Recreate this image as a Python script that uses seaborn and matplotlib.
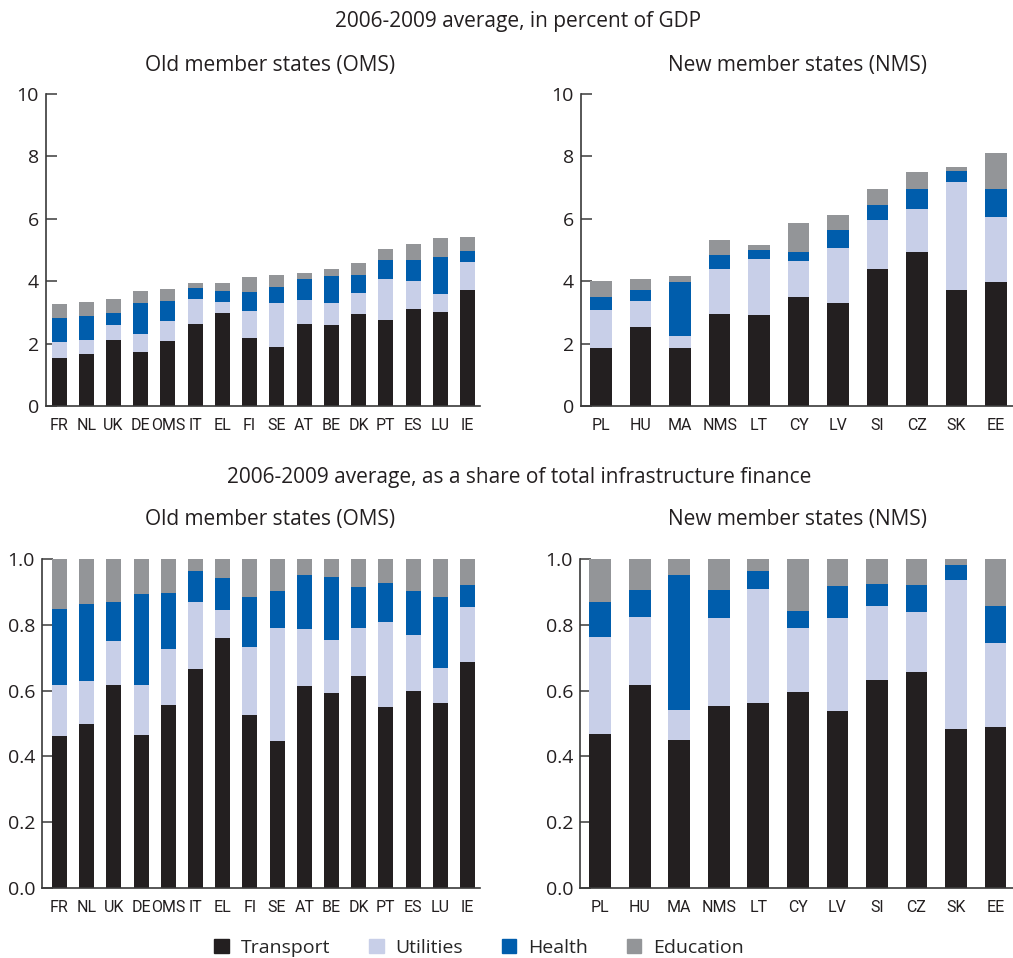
import matplotlib
matplotlib.use('Agg')
import matplotlib.pyplot as plt
import matplotlib.patches as mpatches
import numpy as np
import seaborn as sns

# Colours
C_TRANSPORT = '#231f20'
C_UTILITIES = '#c8cfe8'
C_HEALTH = '#005dac'
C_EDUCATION = '#939598'

# --- Data: old member states ---
oms_countries = ['FR', 'NL', 'UK', 'DE', 'OMS', 'IT', 'EL', 'FI', 'SE', 'AT', 'BE', 'DK', 'PT', 'ES', 'LU', 'IE']
# percent of GDP
oms_gdp_transport = [1.53, 1.66, 2.11, 1.72, 2.07, 2.62, 2.97, 2.17, 1.88, 2.62, 2.59, 2.94, 2.75, 3.10, 3.01, 3.71]
oms_gdp_utilities = [0.51, 0.45, 0.48, 0.58, 0.65, 0.80, 0.36, 0.87, 1.41, 0.77, 0.70, 0.67, 1.31, 0.90, 0.57, 0.90]
oms_gdp_health = [0.77, 0.77, 0.38, 0.99, 0.64, 0.36, 0.35, 0.61, 0.52, 0.67, 0.87, 0.58, 0.61, 0.67, 1.19, 0.35]
oms_gdp_education = [0.47, 0.45, 0.45, 0.39, 0.38, 0.16, 0.26, 0.48, 0.38, 0.20, 0.23, 0.39, 0.36, 0.52, 0.61, 0.45]
# share of total
oms_sh_transport = [0.462, 0.499, 0.618, 0.466, 0.557, 0.666, 0.761, 0.526, 0.447, 0.615, 0.593, 0.645, 0.551, 0.599, 0.563, 0.688]
oms_sh_utilities = [0.156, 0.131, 0.134, 0.152, 0.170, 0.204, 0.085, 0.207, 0.344, 0.173, 0.162, 0.146, 0.258, 0.171, 0.106, 0.167]
oms_sh_health = [0.231, 0.234, 0.116, 0.277, 0.171, 0.095, 0.097, 0.152, 0.113, 0.164, 0.191, 0.125, 0.119, 0.134, 0.216, 0.067]
oms_sh_education = [0.151, 0.136, 0.132, 0.105, 0.102, 0.035, 0.057, 0.115, 0.096, 0.048, 0.054, 0.084, 0.072, 0.096, 0.115, 0.078]

# --- Data: new member states ---
nms_countries = ['PL', 'HU', 'MA', 'NMS', 'LT', 'CY', 'LV', 'SI', 'CZ', 'SK', 'EE']
nms_gdp_transport = [1.85, 2.52, 1.85, 2.94, 2.91, 3.49, 3.29, 4.39, 4.93, 3.71, 3.97]
nms_gdp_utilities = [1.22, 0.84, 0.39, 1.45, 1.80, 1.15, 1.77, 1.57, 1.38, 3.47, 2.08]
nms_gdp_health = [0.42, 0.35, 1.73, 0.44, 0.28, 0.29, 0.58, 0.48, 0.64, 0.35, 0.90]
nms_gdp_education = [0.51, 0.35, 0.19, 0.49, 0.17, 0.93, 0.48, 0.51, 0.55, 0.13, 1.16]
nms_sh_transport = [0.469, 0.618, 0.450, 0.552, 0.563, 0.596, 0.539, 0.633, 0.657, 0.482, 0.490]
nms_sh_utilities = [0.295, 0.207, 0.092, 0.269, 0.347, 0.195, 0.282, 0.225, 0.183, 0.455, 0.255]
nms_sh_health = [0.106, 0.082, 0.410, 0.086, 0.055, 0.052, 0.098, 0.067, 0.082, 0.046, 0.113]
nms_sh_education = [0.130, 0.093, 0.048, 0.093, 0.035, 0.157, 0.081, 0.075, 0.078, 0.017, 0.142]

sns.set_style('ticks')
plt.rcParams['font.family'] = ['Open Sans', 'DejaVu Sans']
TICK_FONT = ['Roboto', 'DejaVu Sans']
SPINE_COL = '#3a3a3a'


def stacked(ax, countries, parts, xlim, ylim, yticks, ylabels):
    # seaborn stacked bars: draw cumulative totals from the top layer down
    colors = [C_TRANSPORT, C_UTILITIES, C_HEALTH, C_EDUCATION]
    cums = np.cumsum(np.array(parts), axis=0)
    for i in range(3, -1, -1):
        sns.barplot(x=countries, y=cums[i], color=colors[i], saturation=1,
                    width=0.55, linewidth=0, ax=ax, order=countries)
    ax.set_xlim(*xlim)
    ax.set_ylim(*ylim)
    ax.set_yticks(yticks)
    ax.set_yticklabels(ylabels, fontsize=14, color='#231f20')
    ax.set_xticks(range(len(countries)))
    ax.set_xticklabels(countries, fontsize=11.5, family=TICK_FONT, color='#231f20')
    ax.tick_params(axis='x', length=0, pad=9)
    ax.tick_params(axis='y', direction='in', length=8, width=1.1, color=SPINE_COL, pad=5)
    for side in ['top', 'right']:
        ax.spines[side].set_visible(False)
    for side in ['left', 'bottom']:
        ax.spines[side].set_color(SPINE_COL)
        ax.spines[side].set_linewidth(1.2)
    ax.set_xlabel('')
    ax.set_ylabel('')


fig = plt.figure(figsize=(10.13, 9.58), dpi=100)
H = 958.0
W = 1013.0

ax1 = fig.add_axes([46 / W, 1 - 406 / H, 434 / W, 312 / H])
ax2 = fig.add_axes([581 / W, 1 - 406 / H, 432 / W, 312 / H])
ax3 = fig.add_axes([42 / W, 1 - 888 / H, 438 / W, 329 / H])
ax4 = fig.add_axes([580 / W, 1 - 888 / H, 433 / W, 329 / H])

gdp_ticks = [0, 2, 4, 6, 8, 10]
gdp_labels = ['0', '2', '4', '6', '8', '10']
sh_ticks = [0, 0.2, 0.4, 0.6, 0.8, 1.0]
sh_labels = ['0.0', '0.2', '0.4', '0.6', '0.8', '1.0']

stacked(ax1, oms_countries, [oms_gdp_transport, oms_gdp_utilities, oms_gdp_health, oms_gdp_education],
        (-0.48, 15.46), (0, 10), gdp_ticks, gdp_labels)
stacked(ax2, nms_countries, [nms_gdp_transport, nms_gdp_utilities, nms_gdp_health, nms_gdp_education],
        (-0.51, 10.43), (0, 10), gdp_ticks, gdp_labels)
stacked(ax3, oms_countries, [oms_sh_transport, oms_sh_utilities, oms_sh_health, oms_sh_education],
        (-0.64, 15.46), (0, 1.0), sh_ticks, sh_labels)
stacked(ax4, nms_countries, [nms_sh_transport, nms_sh_utilities, nms_sh_health, nms_sh_education],
        (-0.51, 10.44), (0, 1.0), sh_ticks, sh_labels)

# Titles
txt = dict(ha='center', va='center', color='#231f20')
fig.text(518 / W, 1 - 21 / H, '2006-2009 average, in percent of GDP', fontsize=15, **txt)
fig.text(270 / W, 1 - 66 / H, 'Old member states (OMS)', fontsize=15, **txt)
fig.text(797 / W, 1 - 66 / H, 'New member states (NMS)', fontsize=15, **txt)
fig.text(519 / W, 1 - 478 / H, '2006-2009 average, as a share of total infrastructure finance', fontsize=15, **txt)
fig.text(270 / W, 1 - 520 / H, 'Old member states (OMS)', fontsize=15, **txt)
fig.text(797 / W, 1 - 520 / H, 'New member states (NMS)', fontsize=15, **txt)

# Legend
handles = [mpatches.Patch(color=c, label=l) for c, l in
           [(C_TRANSPORT, 'Transport'), (C_UTILITIES, 'Utilities'),
            (C_HEALTH, 'Health'), (C_EDUCATION, 'Education')]]
fig.legend(handles=handles, loc='center', bbox_to_anchor=(479 / W, 1 - 948 / H), ncol=4,
           frameon=False, fontsize=14, handlelength=0.75, handleheight=0.75,
           handletextpad=0.6, columnspacing=2.0)

fig.savefig('out.png', dpi=100)
